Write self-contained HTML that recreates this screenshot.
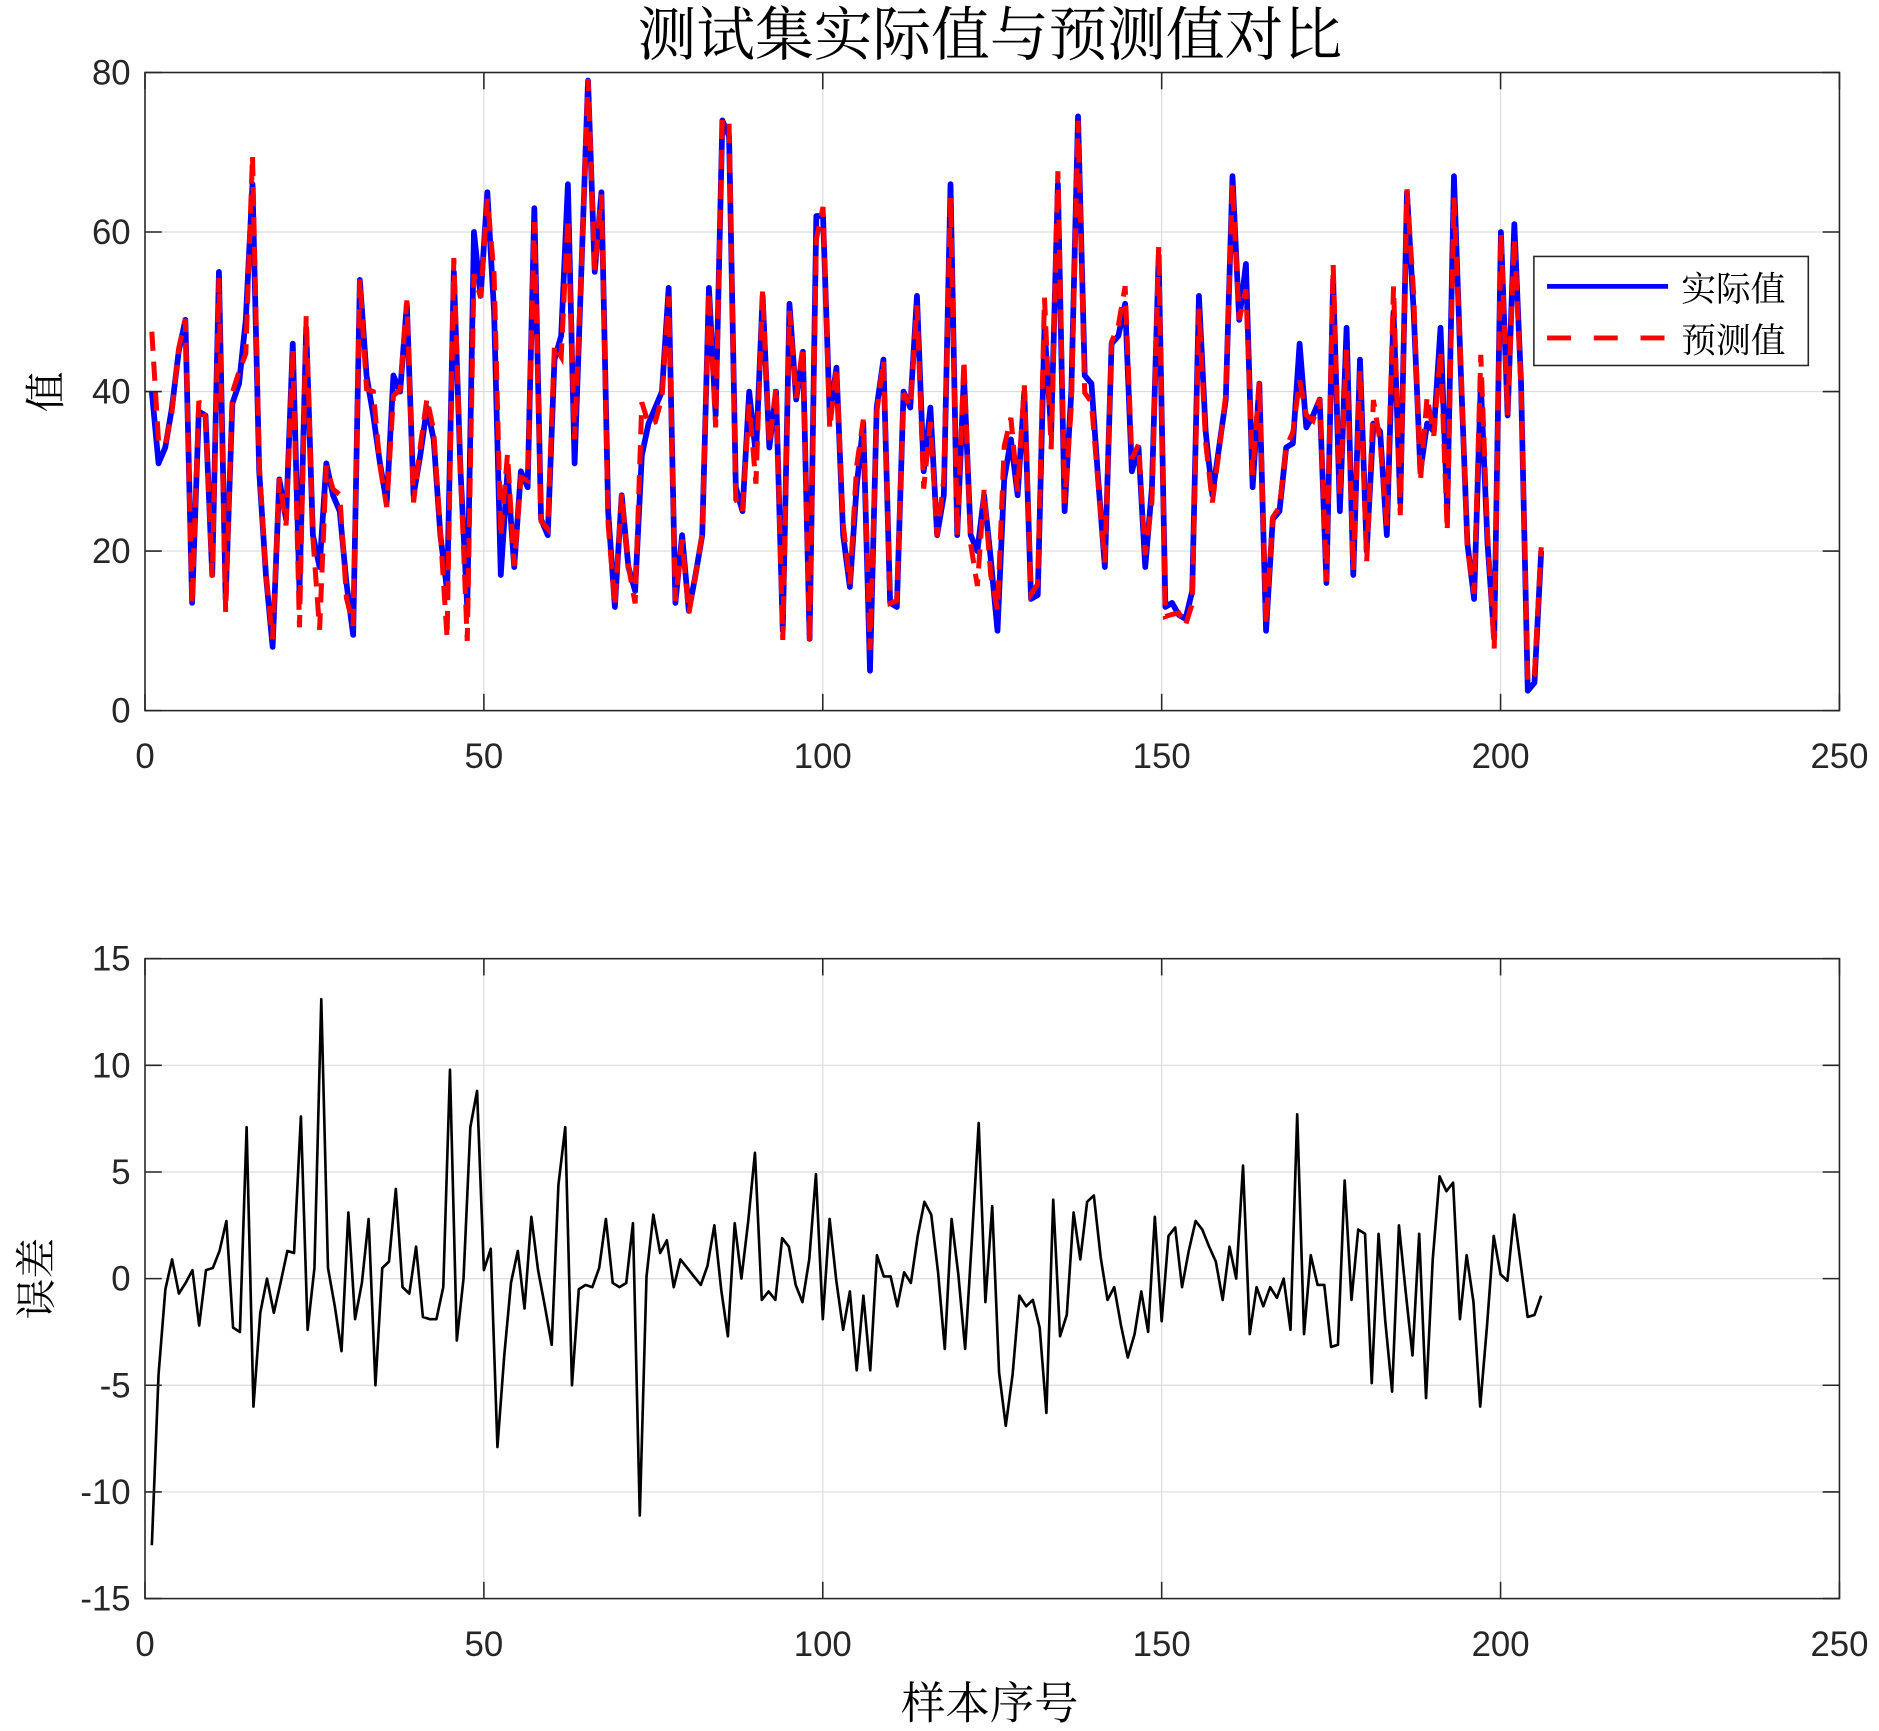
<!DOCTYPE html>
<html><head><meta charset="utf-8"><style>
html,body{margin:0;padding:0;background:#fff;width:1879px;height:1731px;overflow:hidden}
svg{display:block}
text{font-family:"Liberation Sans",Arial,sans-serif;fill:#262626}
.cn{font-family:"Liberation Serif","Noto Serif CJK SC","Noto Sans CJK SC",serif;fill:#000}
</style></head><body>
<svg id="s" width="1879" height="1731" viewBox="0 0 1568 1444.5" xmlns="http://www.w3.org/2000/svg">
<rect width="1568" height="1444.5" fill="#fff"/>
<g id="g1"></g>
<text class="cn" x="826" y="46" font-size="49" text-anchor="middle">测试集实际值与预测值对比</text>
<text class="cn" x="0" y="0" font-size="34" text-anchor="middle" transform="translate(50,327) rotate(-90)">值</text>
<text class="cn" x="0" y="0" font-size="34" text-anchor="middle" transform="translate(42,1067) rotate(-90)">误差</text>
<text class="cn" x="826" y="1434" font-size="37" text-anchor="middle">样本序号</text>
<rect x="1280" y="214" width="229" height="91" fill="#fff" stroke="#262626" stroke-width="1.3"/>
<line x1="1291" y1="239" x2="1392" y2="239" stroke="#0000ff" stroke-width="4"/>
<line x1="1291" y1="282" x2="1392" y2="282" stroke="#ff0000" stroke-width="4" stroke-dasharray="20,19"/>
<text class="cn" x="1403" y="251" font-size="29">实际值</text>
<text class="cn" x="1403" y="294" font-size="29">预测值</text>
</svg>
<script>
const NS="http://www.w3.org/2000/svg";
const g=document.getElementById('g1');
function el(t,a,p){const e=document.createElementNS(NS,t);for(const k in a)e.setAttribute(k,a[k]);(p||g).appendChild(e);return e;}
function txt(x,y,s,anchor,size){const e=el('text',{x:x,y:y,'font-size':size||23,'text-anchor':anchor});e.textContent=s;return e;}
const L=121,R=1535,W=R-L;
function axes(T,B,ymin,ymax,ystep){
  for(let v=0;v<=250;v+=50){const x=L+v/250*W;
    el('line',{x1:x,y1:T,x2:x,y2:B,stroke:'#dcdcdc','stroke-width':1});}
  for(let v=ymin;v<=ymax;v+=ystep){const y=B-(v-ymin)/(ymax-ymin)*(B-T);
    el('line',{x1:L,y1:y,x2:R,y2:y,stroke:'#dcdcdc','stroke-width':1});}
}
function frame(T,B,ymin,ymax,ystep){
  el('rect',{x:L,y:T,width:W,height:B-T,fill:'none',stroke:'#262626','stroke-width':1.3});
  for(let v=0;v<=250;v+=50){const x=L+v/250*W;
    el('line',{x1:x,y1:B,x2:x,y2:B-14,stroke:'#262626','stroke-width':1.3});
    el('line',{x1:x,y1:T,x2:x,y2:T+14,stroke:'#262626','stroke-width':1.3});
    txt(x,B+48,String(v),'middle',29);}
  for(let v=ymin;v<=ymax;v+=ystep){const y=B-(v-ymin)/(ymax-ymin)*(B-T);
    el('line',{x1:L,y1:y,x2:L+14,y2:y,stroke:'#262626','stroke-width':1.3});
    el('line',{x1:R,y1:y,x2:R-14,y2:y,stroke:'#262626','stroke-width':1.3});
    txt(L-12,y+10,String(v),'end',29);}
}
const err=[-12.5,-4.5,-0.5,0.9,-0.7,-0.2,0.4,-2.2,0.4,0.5,1.3,2.7,-2.3,-2.5,7.1,-6.0,-1.6,0,-1.6,-0.2,1.3,1.2,7.6,-2.4,0.5,13.1,0.5,-1.3,-3.4,3.1,-1.9,-0.2,2.8,-5.0,0.5,0.8,4.2,-0.4,-0.7,1.5,-1.8,-1.9,-1.9,-0.4,9.8,-2.9,0,7.1,8.8,0.4,1.4,-7.9,-3.6,-0.2,1.3,-1.4,2.9,0.4,-1.3,-3.1,4.4,7.1,-5.0,-0.5,-0.3,-0.4,0.5,2.8,-0.2,-0.4,-0.2,2.6,-11.1,0.1,3.0,1.2,1.8,-0.4,0.9,0.5,0.1,-0.3,0.6,2.5,-0.5,-2.7,2.6,0,2.7,5.9,-1.0,-0.6,-1.0,1.9,1.5,-0.3,-1.1,0.9,4.9,-1.9,2.8,-0.1,-2.4,-0.6,-4.3,-0.8,-4.3,1.1,0.1,0.1,-1.3,0.3,-0.2,2.0,3.6,3.0,0.3,-3.3,2.8,0.2,-3.3,1.8,7.3,-1.1,3.4,-4.4,-6.9,-4.5,-0.8,-1.3,-1.0,-2.3,-6.3,3.7,-2.7,-1.7,3.1,0.9,3.6,3.9,1.0,-1.0,-0.4,-2.2,-3.7,-2.6,-0.6,-2.5,2.9,-2.0,2.0,2.4,-0.4,1.3,2.7,2.3,1.5,0.8,-1.0,1.5,0,5.3,-2.6,-0.4,-1.3,-0.4,-0.9,0,-2.4,7.7,-2.6,1.1,-0.3,-0.3,-3.2,-3.1,4.6,-1.0,2.3,2.1,-4.9,2.1,-2.0,-5.3,2.5,-0.6,-3.6,2.1,-5.6,0.9,4.8,4.1,4.5,-1.9,1.1,-1.1,-6.0,-2.2,2.0,0.2,-0.1,3.0,0.6,-1.8,-1.7,-0.8];
const act=[40,31,33,38,45,49,13.5,37.5,37,17,55,14,38.5,41,49,66,30,17,8,29,24,46,15,48,22,18,31,27,25,16,9.5,54,42,37,31,26,42,40,51,27,32,38,34,22,15,55,30,13,60,52,65,50,17,30,18,30,28,63,24,22,44,47,66,31,55,79,55,65,25,13,27,18,15,32,36,38,40,53,13.5,22,12.5,17,22,53,37,74,72,28,25,40,32,52,33,40,10,51,39,45,9,62,62,37,43,22,15.5,28,36,5,38,44,13.5,13,40,38,52,30,38,22,27,66,22,42,22,20,27,19,10,29,34,27,40,14,14.5,48,35,66,25,40,74.5,42,41,29,18,46,47,51,30,33,18,28,57,13,13.5,12,11.5,15,52,35,27,33,39,67,49,56,28,41,10,24,25,33,33.5,46,35.5,37,39,16,54,25,48,17,44,20,36,35,22,50,26,65,50,30,36,35,48,25,67,43,21,14,41,21,9,60,37,61,41,2.5,3.5,20];
const sx=i=>L+i/250*W;
axes(60.5,593,0,80,20);
const n=act.length;
let pa=[],pp=[];
for(let k=0;k<n;k++){const idx=1+k*205/(n-1);const ei=Math.min(205,Math.round(idx)-1);
  const a=act[k];let p=a-0.6*err[ei];p=Math.max(0.5,p);const x=sx(idx);
  pa.push(x.toFixed(1)+','+(593-a*6.656).toFixed(1));
  pp.push(x.toFixed(1)+','+(593-p*6.656).toFixed(1));}
el('polyline',{points:pa.join(' '),fill:'none',stroke:'#0000ff','stroke-width':4.8,'stroke-linejoin':'round'});
el('polyline',{points:pp.join(' '),fill:'none',stroke:'#ff0000','stroke-width':4.2,'stroke-dasharray':'16,9'});
frame(60.5,593,0,80,20);
axes(800,1334,-15,15,5);
let pe=[];
for(let i=0;i<err.length;i++){pe.push(sx(i+1).toFixed(1)+','+(1067-err[i]*17.8).toFixed(1));}
el('polyline',{points:pe.join(' '),fill:'none',stroke:'#000','stroke-width':2.2,'stroke-linejoin':'round'});
frame(800,1334,-15,15,5);
</script>
</body></html>
